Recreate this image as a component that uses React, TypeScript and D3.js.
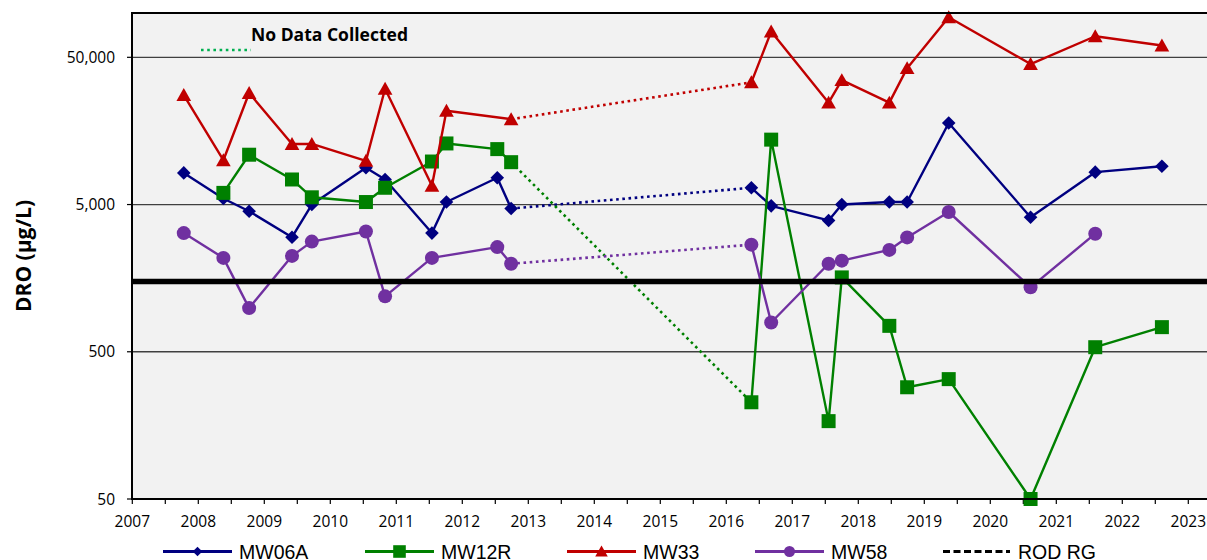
import React from "react";
import * as d3 from "d3";

// Sampling events (decimal years)
const sampleDates = [
  2007.78, 2008.38, 2008.77, 2009.42, 2009.72, 2010.54, 2010.83, 2011.54, 2011.76,
  2012.53, 2012.74, 2016.38, 2016.68, 2017.55, 2017.75, 2018.47, 2018.74, 2019.37,
  2020.61, 2021.59, 2022.6,
];

const mw06a = [8200, 5500, 4500, 3000, 5000, 8900, 7400, 3200, 5200, 7600, 4700, 6500, 4900, 3900, 5000, 5200, 5200, 17900, 4100, 8300, 9100];
const mw12r = [null, 6000, 10900, 7400, 5600, 5200, 6500, 9800, 13000, 11900, 9700, 227, 13800, 169, 1600, 750, 287, 326, 50, 537, 735];
const mw33 = [27700, 10000, 28600, 12900, 12900, 9900, 30600, 6700, 21700, null, 19000, 33800, 74800, 24600, 35000, 24600, 42200, 93500, 45000, 69500, 60100];
const mw58 = [3200, 2170, 990, 2240, 2800, 3280, 1190, 2170, null, 2570, 1980, 2670, 790, 1980, 2080, 2460, 2990, 4450, 1370, 3170, null];

const rodRG = 1500;

const seriesNames = ["MW06A", "MW12R", "MW33", "MW58"];
const seriesValues = [mw06a, mw12r, mw33, mw58];
const seriesColors = ["#000080", "#008000", "#c00000", "#7030a0"];
const seriesMarkers = ["diamond", "square", "triangle", "circle"];

const yTickValues = [50, 500, 5000, 50000];
const xTickYears = d3.range(2007, 2024);
const xMinorTicks = d3.range(2007.5, 2024, 1);

const noDataLabel = "No Data Collected";
const yTitle = "DRO (µg/L)";
const rodLabel = "ROD RG";

function markerPath(kind: string, s: number): string {
  if (kind === "diamond") return `M0,${-s}L${s},0L0,${s}L${-s},0Z`;
  if (kind === "square") return `M${-s},${-s}H${s}V${s}H${-s}Z`;
  if (kind === "triangle") return `M0,${-s * 1.0}L${s * 1.05},${s * 0.85}L${-s * 1.05},${s * 0.85}Z`;
  return d3.symbol(d3.symbolCircle, Math.PI * s * s)() as string;
}

export default function App() {
  const x = d3.scaleLinear().domain([2007, 2023]).range([132.3, 1188.3]);
  const y = d3.scaleLog().domain([50, 100000]).range([499, 13]);
  const left = 132, top = 13, bottom = 499, right = 1240;
  const line = d3
    .line<[number, number]>()
    .x((d) => x(d[0]))
    .y((d) => y(d[1]));

  const markerSizes: Record<string, number> = { diamond: 6.8, square: 7, triangle: 7, circle: 7 };
  const legendSizes: Record<string, number> = { diamond: 4.8, square: 6.3, triangle: 6, circle: 5.5 };
  const legendX = [163, 365, 567, 755];
  const legendLen = 69;
  const legendY = 551.5;

  return (
    <svg
      width={1207}
      height={560}
      style={{ position: "absolute", left: 0, top: 0, background: "#ffffff" }}
      fontFamily="'Open Sans', sans-serif"
    >
      {/* plot background */}
      <rect x={left} y={top} width={right - left} height={bottom - top} fill="#f2f2f2" />
      {/* gridlines */}
      {yTickValues.slice(1).map((v) => (
        <line key={v} x1={left} x2={right} y1={y(v)} y2={y(v)} stroke="#404040" strokeWidth={1.3} />
      ))}
      {/* y ticks + labels */}
      {yTickValues.map((v) => (
        <g key={"yt" + v}>
          <line x1={127} x2={left} y1={y(v)} y2={y(v)} stroke="#000" strokeWidth={1.2} />
          <text x={115} y={y(v)} dy="0.36em" textAnchor="end" fontSize={15.5} fill="#000">
            {d3.format(",")(v)}
          </text>
        </g>
      ))}
      {/* x ticks */}
      {xTickYears.map((t) => (
        <g key={"xt" + t}>
          <line x1={x(t)} x2={x(t)} y1={bottom} y2={bottom + 5} stroke="#000" strokeWidth={1.2} />
          <text x={x(t)} y={527} textAnchor="middle" fontSize={15.5} fill="#000">
            {t}
          </text>
        </g>
      ))}
      {xMinorTicks.map((t) => (
        <line key={"xm" + t} x1={x(t)} x2={x(t)} y1={bottom} y2={bottom + 5} stroke="#000" strokeWidth={1.2} />
      ))}
      {/* series */}
      {seriesValues.map((vals, si) => {
        const pts: [number, number][] = [];
        vals.forEach((v, i) => {
          if (v != null) pts.push([sampleDates[i], v as number]);
        });
        const solid: [number, number][][] = [];
        const dotted: [number, number][][] = [];
        let cur: [number, number][] = [pts[0]];
        for (let i = 1; i < pts.length; i++) {
          if (pts[i][0] - pts[i - 1][0] > 3) {
            solid.push(cur);
            dotted.push([pts[i - 1], pts[i]]);
            cur = [pts[i]];
          } else cur.push(pts[i]);
        }
        solid.push(cur);
        const color = seriesColors[si];
        const kind = seriesMarkers[si];
        return (
          <g key={seriesNames[si]}>
            {dotted.map((seg, k) => (
              <path key={"d" + k} d={line(seg) as string} fill="none" stroke={color} strokeWidth={2.6} strokeDasharray="2.6 3.6" />
            ))}
            {solid.map((seg, k) => (
              <path key={"s" + k} d={line(seg) as string} fill="none" stroke={color} strokeWidth={2.4} strokeLinejoin="round" />
            ))}
            {pts.map((p, k) => (
              <path key={"m" + k} d={markerPath(kind, markerSizes[kind])} transform={`translate(${x(p[0])},${y(p[1])})`} fill={color} />
            ))}
          </g>
        );
      })}
      {/* ROD RG line */}
      <line x1={left} x2={right} y1={y(rodRG)} y2={y(rodRG)} stroke="#000" strokeWidth={5.5} />
      {/* frame */}
      <line x1={left} x2={right} y1={top} y2={top} stroke="#000" strokeWidth={2} />
      <line x1={left} x2={right} y1={bottom} y2={bottom} stroke="#000" strokeWidth={2.2} />
      <line x1={left} x2={left} y1={top - 1} y2={bottom + 1} stroke="#000" strokeWidth={2} />
      {/* No data annotation */}
      <line x1={201} x2={251} y1={50} y2={50} stroke="#00b050" strokeWidth={2.6} strokeDasharray="2.6 3.6" />
      <text x={251} y={41} fontSize={17} fontWeight="bold" fill="#000" textLength={157} lengthAdjust="spacingAndGlyphs">
        {noDataLabel}
      </text>
      {/* y title */}
      <text
        transform="translate(31,256) rotate(-90)"
        textAnchor="middle"
        fontSize={21}
        fontWeight="bold"
        fill="#000"
      >
        {yTitle}
      </text>
      {/* legend */}
      <g fontFamily="'Liberation Sans', Arial, sans-serif" fontSize={19.5}>
        {seriesNames.map((n, si) => {
          const lx = legendX[si];
          const kind = seriesMarkers[si];
          return (
            <g key={"lg" + n}>
              <line x1={lx} x2={lx + legendLen} y1={legendY} y2={legendY} stroke={seriesColors[si]} strokeWidth={2.8} />
              <path d={markerPath(kind, legendSizes[kind])} transform={`translate(${lx + legendLen / 2},${legendY})`} fill={seriesColors[si]} />
              <text x={lx + legendLen + 7} y={558.5} fill="#000">
                {n}
              </text>
            </g>
          );
        })}
        <line x1={943} x2={1010} y1={legendY} y2={legendY} stroke="#000" strokeWidth={2.8} strokeDasharray="7 3.5" />
        <text x={1018} y={558.5} fill="#000">
          {rodLabel}
        </text>
      </g>
    </svg>
  );
}
